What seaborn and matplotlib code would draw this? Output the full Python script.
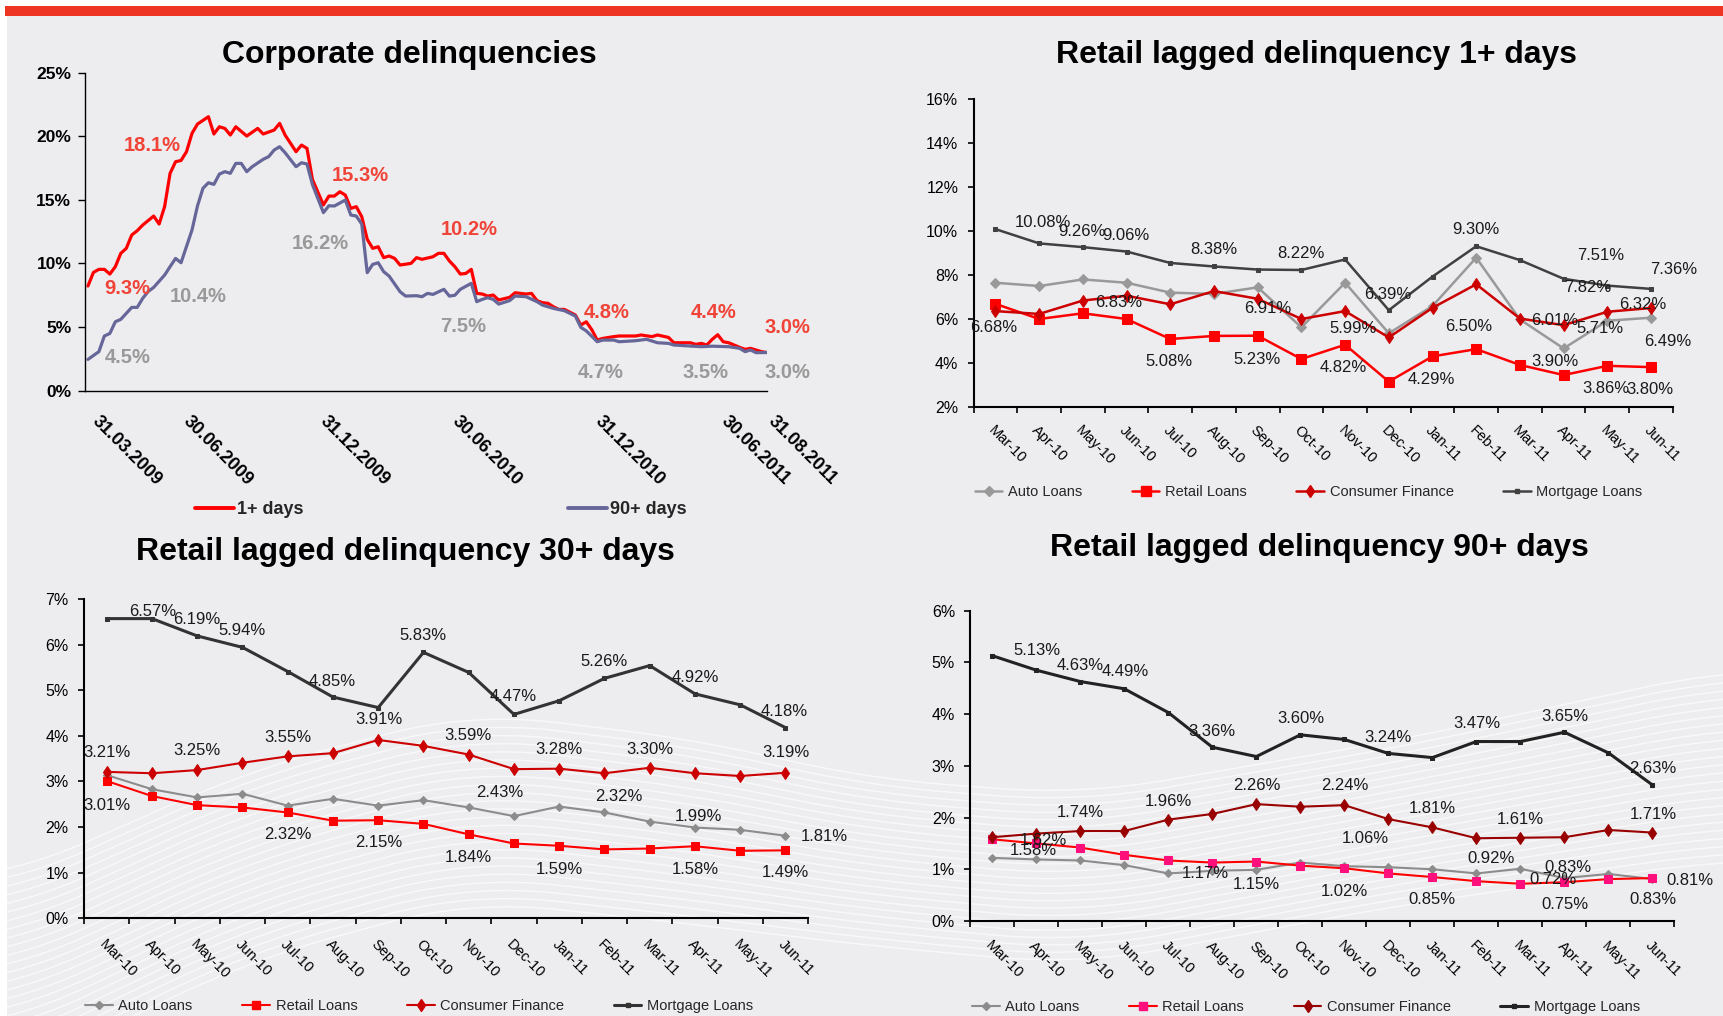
import numpy as np
import matplotlib
matplotlib.use("Agg")
import matplotlib.pyplot as plt
from matplotlib.lines import Line2D
from matplotlib.patches import Rectangle
from matplotlib.transforms import ScaledTranslation, blended_transform_factory
import seaborn as sns

# ---------------------------------------------------------------- data
# Corporate delinquencies: (observation week, rate %)
corp_1plus_obs = [
    (0, 8.23), (1, 9.3), (2, 9.54), (3, 9.54), (4, 9.17), (5, 9.75), (6, 10.80), (7, 11.19),
    (8, 12.24), (9, 12.58), (10, 13.02), (12, 13.73), (13, 13.10), (14, 14.47), (15, 17.09),
    (16, 18.00), (17, 18.1), (18, 18.79), (19, 20.23), (20, 20.96), (22, 21.54), (23, 20.18),
    (24, 20.75), (25, 20.62), (26, 20.10), (27, 20.75), (29, 20.02), (31, 20.62), (32, 20.18),
    (34, 20.49), (35, 21.02), (36, 20.10), (38, 18.79), (39, 19.31), (40, 19.05), (41, 16.6),
    (43, 14.60), (44, 15.3), (45, 15.30), (46, 15.64), (47, 15.38), (48, 14.33), (49, 14.47),
    (50, 13.68), (51, 11.90), (52, 11.19), (53, 11.32), (54, 10.46), (55, 10.59), (56, 10.40),
    (57, 9.88), (59, 10.01), (60, 10.46), (61, 10.33), (63, 10.53), (64, 10.80), (65, 10.80),
    (66, 10.2), (67, 9.75), (68, 9.17), (69, 9.22), (70, 9.54), (71, 7.65), (72, 7.60),
    (73, 7.44), (74, 7.52), (75, 7.13), (77, 7.34), (78, 7.70), (80, 7.60), (81, 7.65),
    (82, 7.08), (83, 6.92), (84, 6.87), (85, 6.60), (86, 6.39), (87, 6.39), (89, 5.95),
    (90, 5.16), (91, 5.42), (92, 4.8), (93, 3.98), (94, 4.11), (96, 4.25), (97, 4.30),
    (100, 4.30), (101, 4.38), (103, 4.25), (104, 4.38), (106, 4.19), (107, 3.77), (110, 3.77),
    (111, 3.64), (112, 3.72), (113, 3.59), (114, 4.04), (115, 4.4), (116, 3.85), (117, 3.77),
    (119, 3.41), (120, 3.25), (121, 3.33), (123, 3.07), (124, 3.0),
]
corp_90plus_obs = [
    (0, 2.46), (2, 3.07), (3, 4.30), (4, 4.5), (5, 5.42), (6, 5.61), (8, 6.55), (9, 6.55),
    (10, 7.26), (11, 7.80), (12, 8.12), (14, 9.09), (15, 9.75), (16, 10.4), (17, 10.06),
    (19, 12.63), (20, 14.52), (21, 15.91), (22, 16.35), (23, 16.22), (24, 17.03), (25, 17.22),
    (26, 17.09), (27, 17.87), (28, 17.87), (29, 17.22), (30, 17.61), (32, 18.19), (33, 18.40),
    (34, 18.92), (35, 19.18), (36, 18.71), (38, 17.61), (39, 17.92), (40, 17.82), (41, 16.2),
    (43, 14.00), (44, 14.54), (45, 14.52), (47, 14.99), (48, 13.81), (49, 13.73), (50, 13.10),
    (51, 9.28), (52, 9.93), (53, 10.06), (54, 9.36), (55, 9.01), (57, 7.78), (58, 7.44),
    (60, 7.47), (61, 7.39), (62, 7.65), (63, 7.57), (65, 7.97), (66, 7.44), (67, 7.5),
    (68, 7.97), (70, 8.44), (71, 7.00), (72, 7.18), (73, 7.31), (74, 7.18), (75, 6.81),
    (77, 7.08), (78, 7.44), (80, 7.39), (82, 7.00), (83, 6.73), (85, 6.47), (87, 6.29),
    (89, 5.87), (90, 4.98), (91, 4.7), (93, 3.85), (94, 3.98), (96, 3.98), (97, 3.85),
    (100, 3.93), (102, 4.04), (104, 3.77), (106, 3.72), (107, 3.59), (110, 3.51), (112, 3.46),
    (114, 3.5), (117, 3.46), (119, 3.33), (120, 3.07), (121, 3.20), (122, 2.99), (124, 3.0),
]
corp_dates = ["31.03.2009", "30.06.2009", "31.12.2009", "30.06.2010",
              "31.12.2010", "30.06.2011", "31.08.2011"]
corp_date_weeks = [2.3, 18.9, 44.0, 68.1, 94.2, 117.3, 125.8]
# annotated points: (week, label x, label y)
corp_1plus_notes = [(1, 7.2, 8.0), (17, 11.7, 19.3), (44, 49.7, 16.95), (66, 69.6, 12.68),
                    (92, 94.7, 6.16), (115, 114.2, 6.16), (124, 127.8, 4.95)]
corp_90plus_notes = [(4, 7.3, 2.59), (16, 20.1, 7.39), (41, 42.4, 11.58), (67, 68.5, 5.08),
                     (91, 93.7, 1.44), (114, 112.8, 1.44), (124, 127.8, 1.44)]

months = ["Mar-10", "Apr-10", "May-10", "Jun-10", "Jul-10", "Aug-10", "Sep-10", "Oct-10",
          "Nov-10", "Dec-10", "Jan-11", "Feb-11", "Mar-11", "Apr-11", "May-11", "Jun-11"]
series_names = ["Auto Loans", "Retail Loans", "Consumer Finance", "Mortgage Loans"]

# Retail lagged delinquency 1+ days
auto_1 = [7.64, 7.49, 7.79, 7.64, 7.19, 7.13, 7.43, 5.61, 7.64, 5.34, 6.58, 8.78, 5.97, 4.65, 5.91, 6.05]
retail_1 = [6.68, 5.99, 6.25, 5.99, 5.08, 5.22, 5.23, 4.17, 4.82, 3.14, 4.29, 4.62, 3.90, 3.44, 3.86, 3.80]
cf_1 = [6.35, 6.22, 6.83, 7.05, 6.66, 7.26, 6.91, 5.99, 6.35, 5.15, 6.50, 7.57, 6.01, 5.71, 6.32, 6.49]
mort_1 = [10.08, 9.43, 9.26, 9.06, 8.54, 8.38, 8.24, 8.22, 8.70, 6.39, 7.92, 9.30, 8.67, 7.82, 7.51, 7.36]

# Retail lagged delinquency 30+ days
auto_30 = [3.14, 2.83, 2.65, 2.73, 2.47, 2.62, 2.47, 2.59, 2.43, 2.24, 2.45, 2.32, 2.12, 1.99, 1.94, 1.81]
retail_30 = [3.01, 2.68, 2.48, 2.43, 2.32, 2.14, 2.15, 2.07, 1.84, 1.64, 1.59, 1.51, 1.53, 1.58, 1.48, 1.49]
cf_30 = [3.21, 3.18, 3.25, 3.41, 3.55, 3.62, 3.91, 3.78, 3.59, 3.27, 3.28, 3.18, 3.30, 3.18, 3.12, 3.19]
mort_30 = [6.57, 6.57, 6.19, 5.94, 5.41, 4.85, 4.62, 5.83, 5.39, 4.47, 4.77, 5.26, 5.54, 4.92, 4.68, 4.18]

# Retail lagged delinquency 90+ days
auto_90 = [1.22, 1.19, 1.17, 1.08, 0.92, 0.97, 0.99, 1.13, 1.06, 1.04, 1.00, 0.92, 1.01, 0.83, 0.91, 0.81]
retail_90 = [1.58, 1.50, 1.42, 1.28, 1.17, 1.13, 1.15, 1.07, 1.02, 0.92, 0.85, 0.77, 0.72, 0.75, 0.81, 0.83]
cf_90 = [1.62, 1.69, 1.74, 1.74, 1.96, 2.07, 2.26, 2.21, 2.24, 1.97, 1.81, 1.60, 1.61, 1.62, 1.76, 1.71]
mort_90 = [5.13, 4.85, 4.63, 4.49, 4.03, 3.36, 3.18, 3.60, 3.51, 3.24, 3.16, 3.47, 3.47, 3.65, 3.25, 2.63]

# value labels: (series, month index, label x, label y)
notes_1 = [
    ("Mortgage Loans", 0, 1.09, 10.37), ("Mortgage Loans", 2, 1.97, 9.99),
    ("Mortgage Loans", 3, 2.98, 9.81), ("Mortgage Loans", 5, 4.99, 9.13),
    ("Mortgage Loans", 7, 6.99, 8.95), ("Mortgage Loans", 9, 8.98, 7.11),
    ("Mortgage Loans", 11, 10.99, 10.04), ("Mortgage Loans", 13, 13.55, 7.43),
    ("Mortgage Loans", 14, 13.84, 8.90), ("Mortgage Loans", 15, 15.51, 8.25),
    ("Retail Loans", 0, -0.04, 5.61), ("Retail Loans", 4, 3.98, 4.05),
    ("Retail Loans", 6, 5.99, 4.17), ("Retail Loans", 8, 7.96, 3.79),
    ("Retail Loans", 10, 9.97, 3.24), ("Retail Loans", 12, 12.8, 4.05),
    ("Retail Loans", 14, 13.97, 2.83), ("Retail Loans", 15, 14.97, 2.76),
    ("Consumer Finance", 2, 2.83, 6.73), ("Consumer Finance", 6, 6.24, 6.47),
    ("Consumer Finance", 7, 8.19, 5.56), ("Consumer Finance", 10, 10.83, 5.67),
    ("Consumer Finance", 12, 12.8, 5.94), ("Consumer Finance", 13, 13.84, 5.56),
    ("Consumer Finance", 14, 14.81, 6.63), ("Consumer Finance", 15, 15.38, 4.96),
]
notes_30 = [
    ("Mortgage Loans", 1, 1.01, 6.72), ("Mortgage Loans", 2, 1.98, 6.56),
    ("Mortgage Loans", 3, 2.98, 6.32), ("Mortgage Loans", 5, 4.98, 5.20),
    ("Mortgage Loans", 7, 6.98, 6.20), ("Mortgage Loans", 9, 8.99, 4.86),
    ("Mortgage Loans", 11, 10.99, 5.64), ("Mortgage Loans", 13, 13.0, 5.28),
    ("Mortgage Loans", 15, 14.98, 4.53),
    ("Consumer Finance", 0, 0.0, 3.64), ("Consumer Finance", 2, 2.0, 3.67),
    ("Consumer Finance", 4, 4.01, 3.97), ("Consumer Finance", 6, 6.01, 4.35),
    ("Consumer Finance", 8, 7.99, 4.00), ("Consumer Finance", 10, 10.0, 3.70),
    ("Consumer Finance", 12, 12.0, 3.70), ("Consumer Finance", 15, 15.0, 3.63),
    ("Retail Loans", 0, 0.0, 2.48), ("Retail Loans", 4, 4.01, 1.84),
    ("Retail Loans", 6, 6.01, 1.66), ("Retail Loans", 8, 7.99, 1.33),
    ("Retail Loans", 10, 10.0, 1.07), ("Retail Loans", 13, 13.0, 1.07),
    ("Retail Loans", 15, 15.0, 1.00),
    ("Auto Loans", 8, 8.68, 2.75), ("Auto Loans", 11, 11.32, 2.67),
    ("Auto Loans", 13, 13.08, 2.24), ("Auto Loans", 15, 15.85, 1.79),
]
notes_90 = [
    ("Mortgage Loans", 0, 1.01, 5.24), ("Mortgage Loans", 2, 2.0, 4.95),
    ("Mortgage Loans", 3, 3.01, 4.82), ("Mortgage Loans", 5, 5.0, 3.66),
    ("Mortgage Loans", 7, 7.0, 3.92), ("Mortgage Loans", 9, 9.0, 3.55),
    ("Mortgage Loans", 11, 11.01, 3.81), ("Mortgage Loans", 13, 13.01, 3.96),
    ("Mortgage Loans", 15, 15.01, 2.95),
    ("Consumer Finance", 2, 2.0, 2.09), ("Consumer Finance", 4, 4.0, 2.31),
    ("Consumer Finance", 6, 6.0, 2.62), ("Consumer Finance", 8, 8.0, 2.62),
    ("Consumer Finance", 10, 10.0, 2.18), ("Consumer Finance", 12, 12.0, 1.97),
    ("Consumer Finance", 15, 15.01, 2.06), ("Consumer Finance", 0, 1.16, 1.55),
    ("Retail Loans", 0, 0.94, 1.36), ("Retail Loans", 4, 4.85, 0.92),
    ("Retail Loans", 6, 6.0, 0.71), ("Retail Loans", 8, 8.0, 0.57),
    ("Retail Loans", 10, 10.0, 0.42), ("Retail Loans", 12, 12.73, 0.81),
    ("Retail Loans", 13, 13.01, 0.32), ("Retail Loans", 15, 15.01, 0.41),
    ("Auto Loans", 8, 8.48, 1.60), ("Auto Loans", 11, 11.33, 1.21),
    ("Auto Loans", 13, 13.08, 1.03), ("Auto Loans", 15, 15.85, 0.79),
]

# ---------------------------------------------------------------- styling
sns.set_theme(style="ticks")
plt.rcParams["font.family"] = ["Liberation Sans", "DejaVu Sans"]
plt.rcParams["axes.linewidth"] = 1.2

W, H = 1724, 1016
fig = plt.figure(figsize=(W / 100, H / 100), dpi=100, facecolor="white")


def axes_px(x0, y0, x1, y1, **kw):
    return fig.add_axes([x0 / W, 1 - y1 / H, (x1 - x0) / W, (y1 - y0) / H], **kw)


# page background, top band and the decorative sweep of thin lines
bg = fig.add_axes([0, 0, 1, 1], zorder=-10)
bg.set_xlim(0, W)
bg.set_ylim(H, 0)
bg.axis("off")
bg.add_patch(Rectangle((7, 16), W - 7, H - 16, color="#EDEDF0", lw=0))
bg.add_patch(Rectangle((5, 6), W - 5, 10, color="#EE3524", lw=0))
sx = np.linspace(0, W, 700)
ctrl_x = [0, 250, 470, 700, 862, 1080, 1400, 1724]
top_y = [880, 770, 712, 740, 778, 795, 740, 670]
bot_y = [1080, 960, 900, 925, 945, 965, 905, 860]


def smooth(v, n=71):
    p = np.pad(v, n // 2, mode="edge")
    return np.convolve(p, np.ones(n) / n, mode="valid")


t_line = smooth(np.interp(sx, ctrl_x, top_y))
b_line = smooth(np.interp(sx, ctrl_x, bot_y))
for k in range(24):
    f = k / 23
    bg.plot(sx, t_line + f * (b_line - t_line), color="white", lw=1.0, alpha=0.65)


def title(x, y, s):
    fig.text(x / W, 1 - y / H, s, ha="center", va="center", fontsize=23, fontweight="bold",
             color="black")


# ---------------------------------------------------------------- corporate panel
title(409.6, 55, "Corporate delinquencies")
ax = axes_px(85.2, 72.7, 767, 390.7)
ax.set_facecolor("none")
w1, v1 = zip(*corp_1plus_obs)
w9, v9 = zip(*corp_90plus_obs)
sns.lineplot(x=list(w1), y=list(v1), ax=ax, color="#FF0000", linewidth=2.3,
             estimator=None, sort=False)
sns.lineplot(x=list(w9), y=list(v9), ax=ax, color="#666699", linewidth=2.3,
             estimator=None, sort=False)
ax.set_xlim(-0.5, 124)
ax.set_ylim(0, 25)
ax.set_yticks(range(0, 26, 5))
ax.set_yticklabels([f"{v}%" for v in range(0, 26, 5)], fontsize=12.5, fontweight="bold")
ax.set_xticks([])
ax.tick_params(axis="y", direction="out", length=5, width=1, pad=5, colors="black")
for s in ("top", "right"):
    ax.spines[s].set_visible(False)
for s in ("left", "bottom"):
    ax.spines[s].set_color("black")
    ax.spines[s].set_linewidth(1.0)
ax.set_xlabel("")
ax.set_ylabel("")

date_tr = blended_transform_factory(ax.transData, ax.transAxes) + \
    ScaledTranslation(0, -21.9 / 100, fig.dpi_scale_trans)
for pos, lab in zip(corp_date_weeks, corp_dates):
    ax.text(pos, 0, lab, transform=date_tr, rotation=-45, rotation_mode="anchor",
            ha="left", va="top", fontsize=13, fontweight="bold", color="black")

v1_at = dict(corp_1plus_obs)
v9_at = dict(corp_90plus_obs)
for wk, lx, ly in corp_1plus_notes:
    ax.text(lx, ly, f"{v1_at[wk]:.1f}%", ha="center", va="center", fontsize=14.5,
            fontweight="bold", color="#F04438")
for wk, lx, ly in corp_90plus_notes:
    ax.text(lx, ly, f"{v9_at[wk]:.1f}%", ha="center", va="center", fontsize=14.5,
            fontweight="bold", color="#999999")

fig.legend([Line2D([], [], color="#FF0000", lw=2.8), Line2D([], [], color="#666699", lw=2.8)],
           ["1+ days", "90+ days"], loc="center left", bbox_to_anchor=(195 / W, 1 - 510 / H),
           ncol=2, frameon=False, prop={"weight": "bold", "size": 13}, handlelength=2.14,
           handletextpad=0.16, columnspacing=14.7, borderpad=0, borderaxespad=0)


# ---------------------------------------------------------------- retail panels
def retail_panel(box, ymin, ymax, data, styles, notes, xpad, legend_xy):
    ax = axes_px(*box)
    ax.set_facecolor("none")
    x = np.arange(len(months))
    for name in series_names:
        st = styles[name]
        sns.lineplot(x=x, y=data[name], ax=ax, color=st["color"], linewidth=st["lw"],
                     marker=st["marker"], markersize=st["ms"],
                     markerfacecolor=st.get("mfc", st["color"]),
                     markeredgecolor=st.get("mfc", st["color"]),
                     estimator=None, sort=False)
    ax.set_xlim(-0.5, len(months) - 0.5)
    ax.set_ylim(ymin, ymax)
    yt = np.arange(ymin, ymax + 0.001, 1 if ymax <= 8 else 2)
    ax.set_yticks(yt)
    ax.set_yticklabels([f"{v:.0f}%" for v in yt], fontsize=11.5)
    ax.set_xticks(x)
    ax.set_xticklabels(months, fontsize=10.5)
    for lab in ax.get_xticklabels():
        lab.set_rotation(-45)
        lab.set_rotation_mode("anchor")
        lab.set_ha("left")
        lab.set_va("top")
    ax.set_xticks(np.arange(-0.5, len(months), 1), minor=True)
    ax.tick_params(axis="x", which="major", length=0, pad=xpad, colors="black")
    ax.tick_params(axis="x", which="minor", length=4, width=1.2, direction="out", colors="black")
    ax.tick_params(axis="y", which="major", length=4, width=1.2, direction="out", pad=7,
                   colors="black")
    for s in ("top", "right"):
        ax.spines[s].set_visible(False)
    for s in ("left", "bottom"):
        ax.spines[s].set_color("black")
        ax.spines[s].set_linewidth(1.5)
    ax.set_xlabel("")
    ax.set_ylabel("")
    for name, idx, lx, ly in notes:
        ax.text(lx, ly, f"{data[name][idx]:.2f}%", ha="center", va="center", fontsize=12,
                color="#1A1A1A")
    handles = []
    for name in series_names:
        st = styles[name]
        handles.append(Line2D([], [], color=st["color"], lw=st["lw"], marker=st["marker"],
                              markersize=st["ms"], markerfacecolor=st.get("mfc", st["color"]),
                              markeredgecolor=st.get("mfc", st["color"])))
    fig.legend(handles, series_names, loc="center left",
               bbox_to_anchor=(legend_xy[0] / W, 1 - legend_xy[1] / H), ncol=4,
               frameon=False, fontsize=10.5, handlelength=1.9, handletextpad=0.38,
               columnspacing=3.4, borderpad=0, borderaxespad=0, numpoints=1)
    return ax


styles_1 = {
    "Auto Loans": dict(color="#999999", lw=1.8, marker="D", ms=5.5),
    "Retail Loans": dict(color="#FF0000", lw=1.8, marker="s", ms=6.5),
    "Consumer Finance": dict(color="#CC0000", lw=1.8, marker="d", ms=6.5),
    "Mortgage Loans": dict(color="#404040", lw=1.8, marker="s", ms=3),
}
styles_30 = {
    "Auto Loans": dict(color="#8C8C8C", lw=1.5, marker="D", ms=4.5),
    "Retail Loans": dict(color="#FF0000", lw=1.5, marker="s", ms=6),
    "Consumer Finance": dict(color="#CC0000", lw=1.5, marker="d", ms=6),
    "Mortgage Loans": dict(color="#333333", lw=2.2, marker="s", ms=2.5),
}
styles_90 = {
    "Auto Loans": dict(color="#8C8C8C", lw=1.5, marker="D", ms=4.5),
    "Retail Loans": dict(color="#FF0000", lw=1.5, marker="s", ms=6, mfc="#FF0F7B"),
    "Consumer Finance": dict(color="#990000", lw=1.5, marker="d", ms=6),
    "Mortgage Loans": dict(color="#222222", lw=2.2, marker="s", ms=2.5),
}

title(1316.8, 55, "Retail lagged delinquency 1+ days")
retail_panel((973.6, 99, 1672.9, 406.7), 2, 16,
             {"Auto Loans": auto_1, "Retail Loans": retail_1,
              "Consumer Finance": cf_1, "Mortgage Loans": mort_1},
             styles_1, notes_1, 11.7, (974.7, 491.7))

title(405, 551.7, "Retail lagged delinquency 30+ days")
retail_panel((84.1, 599, 808.1, 918.3), 0, 7,
             {"Auto Loans": auto_30, "Retail Loans": retail_30,
              "Consumer Finance": cf_30, "Mortgage Loans": mort_30},
             styles_30, notes_30, 13.7, (85.2, 1005.7))

title(1319, 548.3, "Retail lagged delinquency 90+ days")
retail_panel((970.3, 610.7, 1674.5, 921), 0, 6,
             {"Auto Loans": auto_90, "Retail Loans": retail_90,
              "Consumer Finance": cf_90, "Mortgage Loans": mort_90},
             styles_90, notes_90, 12.7, (972, 1006.7))

fig.savefig("out.png", dpi=100, facecolor=fig.get_facecolor())
